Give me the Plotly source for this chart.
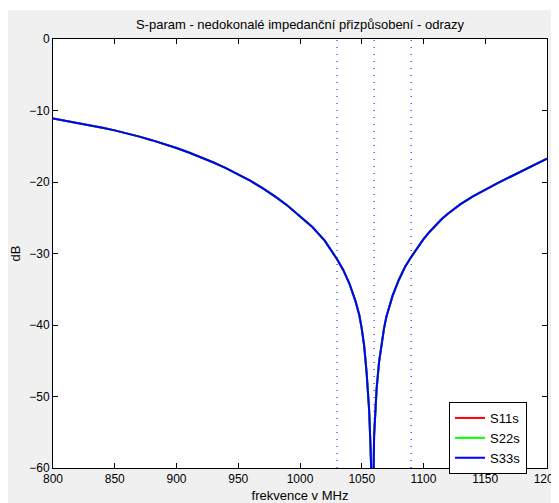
import plotly.graph_objects as go

# Frequencies (MHz) and reflection magnitude (dB)
freq_mhz = [800, 810, 820, 830, 840, 850, 860, 870, 880, 890, 900, 910, 920, 930,
            940, 950, 960, 970, 980, 990, 1000, 1010, 1020, 1030, 1035, 1040,
            1045, 1048, 1050, 1052, 1054, 1055, 1056, 1057, 1058, 1059, 1060,
            1061, 1062, 1064, 1066, 1068, 1070, 1072, 1075, 1080, 1085, 1090,
            1095, 1100, 1105, 1110, 1115, 1120, 1125, 1130, 1140, 1150, 1160,
            1170, 1180, 1190, 1200]
s11_db = [-11.1, -11.4, -11.7, -12.03, -12.4, -12.78, -13.2, -13.65, -14.15,
          -14.68, -15.25, -15.88, -16.55, -17.27, -18.05, -18.92, -19.85, -20.9,
          -22.05, -23.33, -24.75, -26.3, -28.2, -30.8, -32.3, -34.2, -36.7,
          -38.6, -40.5, -43.0, -46.8, -49.0, -52.0, -56.5, -68.0, -68.0, -55.5,
          -51.5, -49.0, -45.2, -42.6, -40.5, -38.8, -37.5, -35.9, -33.7, -31.9,
          -30.5, -29.2, -28.0, -26.95, -26.0, -25.15, -24.4, -23.72, -23.1,
          -22.0, -21.05, -20.15, -19.3, -18.45, -17.6, -16.75]
s22_db = list(s11_db)
s33_db = list(s11_db)

series_names = ["S11s", "S22s", "S33s"]
series_values = [s11_db, s22_db, s33_db]
series_colors = ["#ff0000", "#00ff00", "#0000ff"]

marker_freqs = [1030, 1060, 1090]
y_limits = [-60, 0]
x_ticks = [800, 850, 900, 950, 1000, 1050, 1100, 1150, 1200]
y_ticks = [-60, -50, -40, -30, -20, -10, 0]

FONT = "Liberation Sans, Arial, sans-serif"

fig = go.Figure()

for name, vals, col in zip(series_names, series_values, series_colors):
    fig.add_trace(go.Scatter(x=freq_mhz, y=vals, mode="lines", name=name,
                             line=dict(color=col, width=2), hoverinfo="skip"))

for f in marker_freqs:
    fig.add_trace(go.Scatter(x=[f, f], y=y_limits, mode="lines", showlegend=False,
                             line=dict(color="#0000ff", width=1, dash="1px,6px"),
                             hoverinfo="skip"))

# page body adds an 8px offset; figure fills the rest of the window
W, H = 551, 495
L, R, T, B = 45, 12, 31, 35
pw, ph = W - L - R, H - T - B

fig.update_layout(
    width=W, height=H,
    margin=dict(l=L, r=R, t=T, b=B, autoexpand=False),
    paper_bgcolor="#f0f0f0",
    plot_bgcolor="#ffffff",
    font=dict(family=FONT, size=12, color="#000000"),
    title=dict(text="S-param - nedokonalé impedanční přizpůsobení - odrazy",
               x=(L + pw / 2) / W, xanchor="center", y=1 - 16 / H, yanchor="middle",
               font=dict(family=FONT, size=13, color="#000000")),
    showlegend=True,
    legend=dict(x=(441 - L) / pw, y=(460 - 394) / ph, xanchor="left", yanchor="top",
                bgcolor="#ffffff", bordercolor="#000000", borderwidth=1,
                font=dict(family=FONT, size=13, color="#000000"),
                traceorder="normal", tracegroupgap=0),
    xaxis=dict(range=[800, 1200], tickvals=x_ticks, ticks="inside", ticklen=5,
               tickcolor="#000000", showline=True, linecolor="#000000", linewidth=1,
               mirror="ticks", showgrid=False, zeroline=False,
               ticklabeloverflow="allow",
               title=dict(text="frekvence v MHz", standoff=5,
                          font=dict(family=FONT, size=13)),
               automargin=False, tickfont=dict(size=12)),
    yaxis=dict(range=y_limits, tickvals=y_ticks, ticks="inside", ticklen=5,
               tickcolor="#000000", showline=True, linecolor="#000000", linewidth=1,
               mirror="ticks", showgrid=False, zeroline=False,
               ticklabeloverflow="allow",
               title=dict(text="dB", standoff=12, font=dict(family=FONT, size=13)),
               automargin=False, tickfont=dict(size=12)),
    shapes=[
        dict(type="rect", xref="paper", yref="paper", layer="above",
             x0=-L / pw - 0.01, x1=(W - L) / pw + 0.01, y0=(H - B - 2) / ph,
             y1=(H - B) / ph + 0.01, fillcolor="#ffffff", line=dict(width=0)),
    ],
)

fig.write_html("out.html")
